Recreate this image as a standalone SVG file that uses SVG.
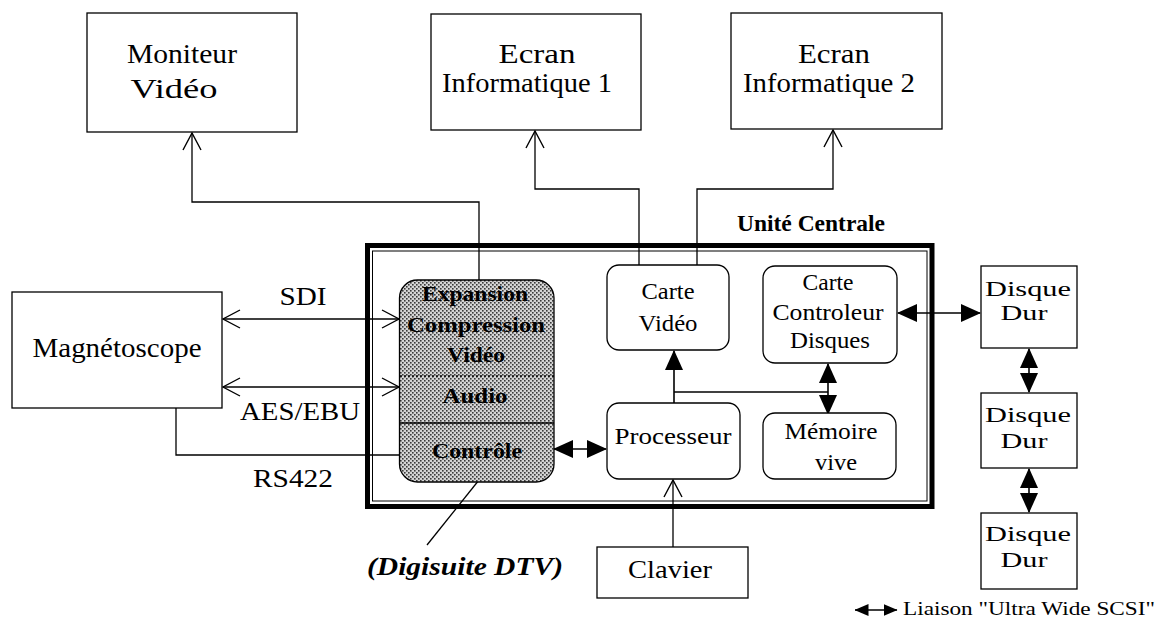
<svg xmlns="http://www.w3.org/2000/svg" width="1173" height="631" viewBox="0 0 1173 631">
<style>
  .box{fill:#fff;stroke:#000;stroke-width:1.3}
  .rbox{fill:#fff;stroke:#000;stroke-width:1.3}
  .t{font-family:"Liberation Serif","Times New Roman",serif;fill:#000}
  .c{fill:none;stroke:#000;stroke-width:1.3}
  .cf{fill:none;stroke:#000;stroke-width:1.6}
</style>
<defs>
  <marker id="open" viewBox="0 0 20 20" refX="19" refY="10" markerWidth="20" markerHeight="20" markerUnits="userSpaceOnUse" orient="auto-start-reverse">
    <path d="M2,1 L19,10 L2,19" fill="none" stroke="#000" stroke-width="1.4"/>
  </marker>
  <marker id="fill" viewBox="0 0 20 18" refX="19" refY="9" markerWidth="20" markerHeight="18" markerUnits="userSpaceOnUse" orient="auto-start-reverse">
    <path d="M0,0 L20,9 L0,18 Z" fill="#000"/>
  </marker>
  <marker id="fillsm" viewBox="0 0 14 12" refX="13.5" refY="6" markerWidth="14" markerHeight="12" markerUnits="userSpaceOnUse" orient="auto-start-reverse">
    <path d="M0,0 L14,6 L0,12 Z" fill="#000"/>
  </marker>
  <pattern id="dots" width="4" height="4" patternUnits="userSpaceOnUse">
    <rect width="4" height="4" fill="#d4d4d4"/>
    <rect x="0" y="0" width="1.6" height="1.6" fill="#3a3a3a"/>
    <rect x="2" y="2" width="1.6" height="1.6" fill="#3a3a3a"/>
  </pattern>
</defs>

<g id="connectors">
  <path class="c" d="M479,280 V202 H192 V133" marker-end="url(#open)"/>
  <path class="c" d="M639,265 V189 H535 V131" marker-end="url(#open)"/>
  <path class="c" d="M697,265 V189 H833 V130" marker-end="url(#open)"/>
  <path class="c" d="M223,319 H399" marker-start="url(#open)" marker-end="url(#open)"/>
  <path class="c" d="M223,387 H399" marker-start="url(#open)" marker-end="url(#open)"/>
  <path class="c" d="M176,408 V455 H399"/>
  <path class="cf" d="M554,449 H606" marker-start="url(#fill)" marker-end="url(#fill)"/>
  <path class="cf" d="M674,403 V351" marker-end="url(#fill)"/>
  <path class="c" d="M674,392 H828"/>
  <path class="cf" d="M828,364 V414" marker-start="url(#fill)" marker-end="url(#fill)"/>
  <path class="cf" d="M898,313 H980" marker-start="url(#fill)" marker-end="url(#fill)"/>
  <path class="cf" d="M1029,349 V392" marker-start="url(#fill)" marker-end="url(#fill)"/>
  <path class="cf" d="M1029,469 V512" marker-start="url(#fill)" marker-end="url(#fill)"/>
  <path class="c" d="M673,547 V480" marker-end="url(#open)"/>
  <path class="c" d="M483,475 L427,545"/>
</g>

<g id="moniteur">
  <rect class="box" x="87" y="13" width="210" height="119"/>
  <text class="t" x="182" y="63" font-size="27" text-anchor="middle" textLength="110" lengthAdjust="spacingAndGlyphs">Moniteur</text>
  <text class="t" x="174" y="98" font-size="27" text-anchor="middle" textLength="87" lengthAdjust="spacingAndGlyphs">Vidéo</text>
</g>

<g id="ecran1">
  <rect class="box" x="431" y="14" width="210" height="116"/>
  <text class="t" x="537" y="63" font-size="27" text-anchor="middle" textLength="77" lengthAdjust="spacingAndGlyphs">Ecran</text>
  <text class="t" x="527" y="92" font-size="27" text-anchor="middle" textLength="170" lengthAdjust="spacingAndGlyphs">Informatique 1</text>
</g>

<g id="ecran2">
  <rect class="box" x="731" y="13" width="211" height="116"/>
  <text class="t" x="834" y="63" font-size="27" text-anchor="middle" textLength="72" lengthAdjust="spacingAndGlyphs">Ecran</text>
  <text class="t" x="829" y="92" font-size="27" text-anchor="middle" textLength="172" lengthAdjust="spacingAndGlyphs">Informatique 2</text>
</g>

<g id="magnetoscope">
  <rect class="box" x="12" y="292" width="210" height="116"/>
  <text class="t" x="117" y="357" font-size="27" text-anchor="middle" textLength="169" lengthAdjust="spacingAndGlyphs">Magnétoscope</text>
</g>

<g id="labels">
  <text class="t" x="303" y="305" font-size="25" text-anchor="middle" textLength="47" lengthAdjust="spacingAndGlyphs">SDI</text>
  <text class="t" x="300" y="420" font-size="25" text-anchor="middle" textLength="120" lengthAdjust="spacingAndGlyphs">AES/EBU</text>
  <text class="t" x="293" y="487" font-size="25" text-anchor="middle" textLength="80" lengthAdjust="spacingAndGlyphs">RS422</text>
  <text class="t" x="465" y="575" font-size="25" font-weight="bold" font-style="italic" text-anchor="middle" textLength="196" lengthAdjust="spacingAndGlyphs">(Digisuite DTV)</text>
</g>

<g id="unite-centrale">
  <rect x="367.5" y="245.5" width="564.5" height="261" fill="none" stroke="#000" stroke-width="5"/>
  <rect x="372.5" y="251" width="554.5" height="250" fill="none" stroke="#000" stroke-width="1"/>
  <text class="t" x="811" y="231" font-size="24" font-weight="bold" text-anchor="middle" textLength="148" lengthAdjust="spacingAndGlyphs">Unité Centrale</text>
</g>

<g id="digisuite">
  <rect x="399.5" y="280" width="154.5" height="202" rx="18" fill="url(#dots)" stroke="#000" stroke-width="1.3"/>
  <line x1="400" y1="376" x2="554" y2="376" stroke="#000" stroke-width="1.3" stroke-dasharray="2,2"/>
  <line x1="400" y1="423" x2="554" y2="423" stroke="#000" stroke-width="1.3"/>
  <text class="t" x="475" y="301" font-size="22" font-weight="bold" text-anchor="middle" textLength="106" lengthAdjust="spacingAndGlyphs">Expansion</text>
  <text class="t" x="476" y="332" font-size="22" font-weight="bold" text-anchor="middle" textLength="138" lengthAdjust="spacingAndGlyphs">Compression</text>
  <text class="t" x="476" y="362" font-size="22" font-weight="bold" text-anchor="middle" textLength="58" lengthAdjust="spacingAndGlyphs">Vidéo</text>
  <text class="t" x="475" y="403" font-size="22" font-weight="bold" text-anchor="middle" textLength="65" lengthAdjust="spacingAndGlyphs">Audio</text>
  <text class="t" x="477" y="458" font-size="22" font-weight="bold" text-anchor="middle" textLength="90" lengthAdjust="spacingAndGlyphs">Contrôle</text>
</g>

<g id="carte-video">
  <rect class="rbox" x="607" y="265" width="122" height="85" rx="12"/>
  <text class="t" x="668" y="299" font-size="23" text-anchor="middle" textLength="53" lengthAdjust="spacingAndGlyphs">Carte</text>
  <text class="t" x="668" y="331" font-size="23" text-anchor="middle" textLength="59" lengthAdjust="spacingAndGlyphs">Vidéo</text>
</g>

<g id="carte-controleur">
  <rect class="rbox" x="763" y="266" width="134" height="97" rx="12"/>
  <text class="t" x="828" y="290" font-size="23" text-anchor="middle" textLength="51" lengthAdjust="spacingAndGlyphs">Carte</text>
  <text class="t" x="828" y="320" font-size="23" text-anchor="middle" textLength="111" lengthAdjust="spacingAndGlyphs">Controleur</text>
  <text class="t" x="830" y="348" font-size="23" text-anchor="middle" textLength="80" lengthAdjust="spacingAndGlyphs">Disques</text>
</g>

<g id="processeur">
  <rect class="rbox" x="607" y="403" width="133" height="76" rx="12"/>
  <text class="t" x="673" y="444" font-size="23" text-anchor="middle" textLength="117" lengthAdjust="spacingAndGlyphs">Processeur</text>
</g>

<g id="memoire">
  <rect class="rbox" x="763" y="413" width="133" height="66" rx="12"/>
  <text class="t" x="831" y="439" font-size="23" text-anchor="middle" textLength="93" lengthAdjust="spacingAndGlyphs">Mémoire</text>
  <text class="t" x="836" y="470" font-size="23" text-anchor="middle" textLength="42" lengthAdjust="spacingAndGlyphs">vive</text>
</g>

<g id="clavier">
  <rect class="box" x="597" y="547" width="151" height="51"/>
  <text class="t" x="670" y="578" font-size="26" text-anchor="middle" textLength="84" lengthAdjust="spacingAndGlyphs">Clavier</text>
</g>

<g id="disque1">
  <rect class="box" x="981" y="266" width="96" height="82"/>
  <text class="t" x="1028" y="296" font-size="22" text-anchor="middle" textLength="86" lengthAdjust="spacingAndGlyphs">Disque</text>
  <text class="t" x="1024" y="320" font-size="22" text-anchor="middle" textLength="47" lengthAdjust="spacingAndGlyphs">Dur</text>
</g>

<g id="disque2">
  <rect class="box" x="981" y="393" width="96" height="75"/>
  <text class="t" x="1028" y="422" font-size="22" text-anchor="middle" textLength="86" lengthAdjust="spacingAndGlyphs">Disque</text>
  <text class="t" x="1024" y="448" font-size="22" text-anchor="middle" textLength="47" lengthAdjust="spacingAndGlyphs">Dur</text>
</g>

<g id="disque3">
  <rect class="box" x="981" y="513" width="96" height="76"/>
  <text class="t" x="1028" y="541" font-size="22" text-anchor="middle" textLength="86" lengthAdjust="spacingAndGlyphs">Disque</text>
  <text class="t" x="1024" y="567" font-size="22" text-anchor="middle" textLength="47" lengthAdjust="spacingAndGlyphs">Dur</text>
</g>

<g id="legend">
  <path class="c" d="M855,610 H897" marker-start="url(#fillsm)" marker-end="url(#fillsm)"/>
  <text class="t" x="903" y="615" font-size="19" textLength="252" lengthAdjust="spacingAndGlyphs">Liaison "Ultra Wide SCSI"</text>
</g>
</svg>
